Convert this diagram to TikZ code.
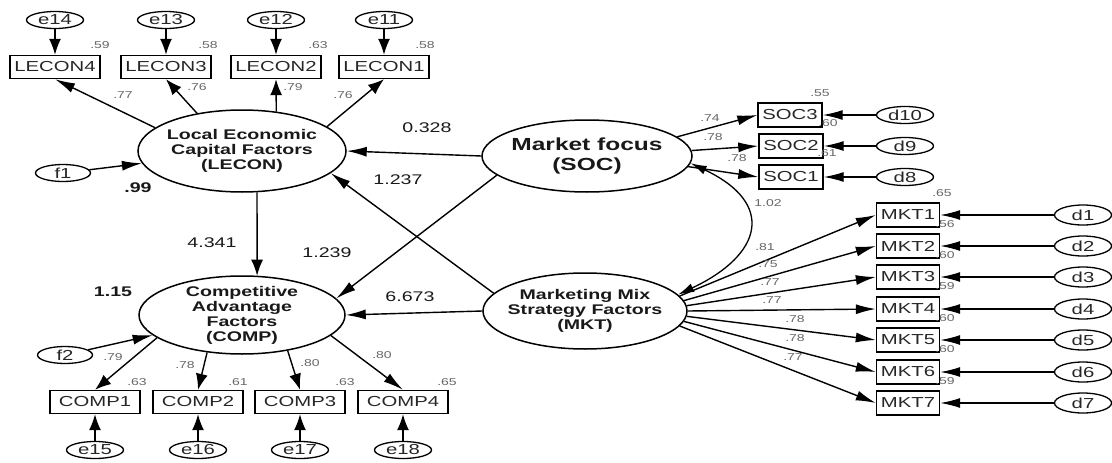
\documentclass[tikz,border=0pt]{standalone}
\usepackage{fontspec}
\setmainfont{Liberation Sans}[FakeStretch=1.4]
\usepackage{tikz}
\usetikzlibrary{shapes.geometric,arrows.meta}
\tikzstyle{line} = [draw, line width=1.4pt, -{Latex[length=16pt,width=12pt]}]
\tikzstyle{lineh} = [draw, line width=1.4pt, -{Latex[length=20pt,width=10pt]}]
\tikzstyle{linetwo} = [draw, line width=1.3pt, {Latex[length=16pt,width=9pt]}-{Latex[length=16pt,width=9pt]}]
\tikzstyle{latent} = [draw, ellipse, line width=1.5pt, inner xsep=-8pt, inner ysep=-5pt, align=center, text=black!90, font={\fontsize{14}{15}\selectfont\bfseries}]
\tikzstyle{obs} = [draw, rectangle, line width=1.4pt, inner sep=0pt, minimum height=23pt, text=black!85, font={\fontsize{14.5}{15}\selectfont}]
\tikzstyle{err} = [draw, ellipse, line width=1.3pt, inner sep=0pt, minimum width=57pt, minimum height=17pt, text=black!85, font={\fontsize{14.5}{15}\selectfont}]
\tikzstyle{est} = [inner sep=0pt, text=black!60, font={\fontsize{10}{11}\selectfont}]
\tikzstyle{coef} = [inner sep=0pt, text=black!90, font={\fontsize{14}{15}\selectfont}]

\begin{document}
\begin{tikzpicture}[x=1pt, y=1pt]
            \useasboundingbox (0,0) rectangle (1112,-463);
                % latent factors
                \node [latent, minimum width=208pt, minimum height=82pt] (LECON) at (242,-151) {Local Economic\\Capital Factors\\(LECON)};
                \node [latent, minimum width=206pt, minimum height=78pt] (COMP) at (242,-315) {Competitive\\Advantage\\Factors\\(COMP)};
                \node [latent, minimum width=210pt, minimum height=72pt, font={\fontsize{17.5}{20}\selectfont\bfseries}] (SOC) at (587,-156) {Market focus\\(SOC)};
                \node [latent, minimum width=204pt, minimum height=76pt] (MKT) at (585,-311) {Marketing Mix\\Strategy Factors\\(MKT)};
                % LECON items
                \node [obs, minimum width=90pt] (L4) at (55,-67) {LECON4};
                \node [obs, minimum width=90pt] (L3) at (166,-67) {LECON3};
                \node [obs, minimum width=90pt] (L2) at (276,-67) {LECON2};
                \node [obs, minimum width=90pt] (L1) at (384,-67) {LECON1};
                \node [err] (e14) at (55,-20) {e14};
                \node [err] (e13) at (166,-20) {e13};
                \node [err] (e12) at (276,-20) {e12};
                \node [err] (e11) at (384,-20) {e11};
                \node [err, minimum width=55pt] (f1) at (63,-173) {f1};
                % COMP items
                \node [obs, minimum width=90pt] (C1) at (95,-402) {COMP1};
                \node [obs, minimum width=90pt] (C2) at (198,-402) {COMP2};
                \node [obs, minimum width=90pt] (C3) at (300,-402) {COMP3};
                \node [obs, minimum width=90pt] (C4) at (403,-402) {COMP4};
                \node [err] (e15) at (95,-450) {e15};
                \node [err] (e16) at (198,-450) {e16};
                \node [err] (e17) at (300,-450) {e17};
                \node [err] (e18) at (403,-450) {e18};
                \node [err, minimum width=55pt] (f2) at (65,-355) {f2};
                % SOC items
                \node [obs, minimum width=64pt, minimum height=24pt] (S3) at (790,-115) {SOC3};
                \node [obs, minimum width=64pt, minimum height=24pt] (S2) at (791,-146) {SOC2};
                \node [obs, minimum width=64pt, minimum height=24pt] (S1) at (791,-177) {SOC1};
                \node [err] (d10) at (905,-115) {d10};
                \node [err] (d9) at (905,-146) {d9};
                \node [err] (d8) at (905,-177) {d8};
                % MKT items
                \node [obs, minimum width=63pt, minimum height=24pt] (M1) at (908,-215) {MKT1};
                \node [obs, minimum width=63pt, minimum height=24pt] (M2) at (908,-246) {MKT2};
                \node [obs, minimum width=63pt, minimum height=24pt] (M3) at (908,-277) {MKT3};
                \node [obs, minimum width=63pt, minimum height=24pt] (M4) at (908,-309) {MKT4};
                \node [obs, minimum width=63pt, minimum height=24pt] (M5) at (908,-340) {MKT5};
                \node [obs, minimum width=63pt, minimum height=24pt] (M6) at (908,-372) {MKT6};
                \node [obs, minimum width=63pt, minimum height=24pt] (M7) at (908,-403) {MKT7};
                \node [err, minimum height=20pt] (d1) at (1083,-215) {d1};
                \node [err, minimum height=20pt] (d2) at (1083,-246) {d2};
                \node [err, minimum height=20pt] (d3) at (1083,-277) {d3};
                \node [err, minimum height=20pt] (d4) at (1083,-309) {d4};
                \node [err, minimum height=20pt] (d5) at (1083,-340) {d5};
                \node [err, minimum height=20pt] (d6) at (1083,-372) {d6};
                \node [err, minimum height=20pt] (d7) at (1083,-403) {d7};
                % structural paths
                \path [lineh] (SOC.west) -- (LECON.east);
                \path [lineh] (MKT.169) -- (LECON.-14);
                \path [line] (LECON.-70) -- (COMP.69);
                \path [lineh] (SOC.192) -- (COMP.10);
                \path [lineh] (MKT.west) -- (COMP.east);
                \path [lineh] (f1) -- (LECON);
                \path [lineh] (f2) -- (COMP);
                \path [linetwo] (SOC.-4) .. controls +(85,-40) and +(85,40) .. (MKT.10);
                % loadings
                \path [lineh] (LECON.165) -- (L4.south);
                \path [line] (LECON.140) -- (L3.south);
                \path [line] (LECON.49) -- (L2.south);
                \path [line] (LECON.16) -- (L1.south);
                \path [line] (e14) -- (L4);
                \path [line] (e13) -- (L3);
                \path [line] (e12) -- (L2);
                \path [line] (e11) -- (L1);
                \path [line] (COMP.195) -- (C1.north);
                \path [line] (COMP.227) -- (C2.north);
                \path [line] (COMP.322) -- (C3.north);
                \path [lineh] (COMP.347) -- (C4.north);
                \path [line] (e15) -- (C1);
                \path [line] (e16) -- (C2);
                \path [line] (e17) -- (C3);
                \path [line] (e18) -- (C4);
                \path [lineh] (SOC.12) -- (S3.west);
                \path [lineh] (SOC.3) -- (S2.west);
                \path [lineh] (SOC.-6) -- (S1.west);
                \path [lineh] (d10) -- (S3);
                \path [lineh] (d9) -- (S2);
                \path [lineh] (d8) -- (S1);
                \path [lineh] (MKT.9) -- (M1.west);
                \path [lineh] (MKT.6) -- (M2.west);
                \path [lineh] (MKT.3) -- (M3.west);
                \path [lineh] (MKT.0) -- (M4.west);
                \path [lineh] (MKT.-3) -- (M5.west);
                \path [lineh] (MKT.-6) -- (M6.west);
                \path [lineh] (MKT.-9) -- (M7.west);
                \path [lineh] (d1) -- (M1);
                \path [lineh] (d2) -- (M2);
                \path [lineh] (d3) -- (M3);
                \path [lineh] (d4) -- (M4);
                \path [lineh] (d5) -- (M5);
                \path [lineh] (d6) -- (M6);
                \path [lineh] (d7) -- (M7);
                % estimates
                \node [coef] (b1) at (427,-128) {0.328};
                \node [coef] (b2) at (398,-180) {1.237};
                \node [coef] (b3) at (212,-243) {4.341};
                \node [coef] (b4) at (327,-253) {1.239};
                \node [coef] (b5) at (410,-297) {6.673};
                \node [coef, font={\fontsize{14}{15}\selectfont\bfseries}] (r1) at (138,-188) {.99};
                \node [coef, font={\fontsize{14}{15}\selectfont\bfseries}] (r2) at (113,-292) {1.15};
                \node [est] (c1) at (768,-203) {1.02};
                \node [est] at (100,-45) {.59};
                \node [est] at (208,-45) {.58};
                \node [est] at (318,-45) {.63};
                \node [est] at (425,-45) {.58};
                \node [est] at (123,-95) {.77};
                \node [est] at (197,-87) {.76};
                \node [est] at (293,-87) {.79};
                \node [est] at (343,-95) {.76};
                \node [est] at (113,-357) {.79};
                \node [est] at (185,-365) {.78};
                \node [est] at (310,-363) {.80};
                \node [est] at (382,-355) {.80};
                \node [est] at (137,-382) {.63};
                \node [est] at (238,-382) {.61};
                \node [est] at (345,-382) {.63};
                \node [est] at (447,-382) {.65};
                \node [est] at (710,-118) {.74};
                \node [est] at (713,-137) {.78};
                \node [est] at (737,-158) {.78};
                \node [est] at (820,-93) {.55};
                \node [est] at (828,-123) {.60};
                \node [est] at (827,-153) {.61};
                \node [est] at (765,-247) {.81};
                \node [est] at (768,-264) {.75};
                \node [est] at (770,-282) {.77};
                \node [est] at (772,-300) {.77};
                \node [est] at (795,-319) {.78};
                \node [est] at (795,-338) {.78};
                \node [est] at (793,-357) {.77};
                \node [est] at (942,-193) {.65};
                \node [est] at (945,-224) {.56};
                \node [est] at (945,-255) {.60};
                \node [est] at (945,-286) {.59};
                \node [est] at (945,-318) {.60};
                \node [est] at (945,-349) {.60};
                \node [est] at (945,-381) {.59};
            \end{tikzpicture}
\end{document}
